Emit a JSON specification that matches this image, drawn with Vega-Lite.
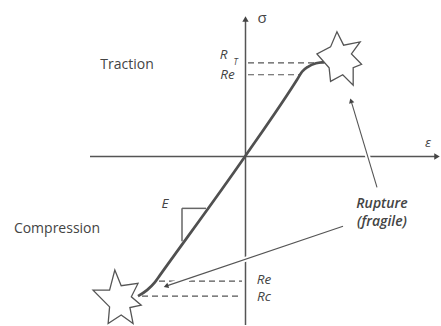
{
  "$schema": "https://vega.github.io/schema/vega-lite/v6.json",
  "width": 441,
  "height": 326,
  "padding": 0,
  "autosize": {"type": "fit", "contains": "padding"},
  "background": "white",
  "config": {"view": {"stroke": null}, "font": "Open Sans"},
  "datasets": {
    "curve": [
      {"i": 1, "e": -10.7, "s": -14.0},
      {"i": 2, "e": -9.8, "s": -13.4},
      {"i": 3, "e": -9.0, "s": -12.6},
      {"i": 4, "e": -8.5, "s": -11.9},
      {"i": 5, "e": 0, "s": 0},
      {"i": 6, "e": 5.2, "s": 7.7},
      {"i": 7, "e": 5.7, "s": 8.5},
      {"i": 8, "e": 6.3, "s": 9.0},
      {"i": 9, "e": 7.1, "s": 9.35},
      {"i": 10, "e": 8.1, "s": 9.5}
    ],
    "segs": [
      {"k": "axis", "e": -15.5, "s": 0, "e2": 19.2, "s2": 0},
      {"k": "axis", "e": 0.05, "s": 13.6, "e2": 0.05, "s2": -16.9},
      {"k": "dash", "e": 0.3, "s": 9.4, "e2": 8.0, "s2": 9.4},
      {"k": "dash", "e": 0.3, "s": 8.2, "e2": 5.5, "s2": 8.2},
      {"k": "dash", "e": -8.6, "s": -12.5, "e2": -0.3, "s2": -12.5},
      {"k": "dash", "e": -10.3, "s": -14.0, "e2": -0.3, "s2": -14.0},
      {"k": "arrow", "e": 13.2, "s": -3.1, "e2": 10.6, "s2": 5.6},
      {"k": "arrow", "e": 9.8, "s": -7.0, "e2": -7.9, "s2": -13.0},
      {"k": "tri", "e": -6.3, "s": -5.2, "e2": -6.3, "s2": -8.5},
      {"k": "tri", "e": -6.3, "s": -5.2, "e2": -3.9, "s2": -5.2}
    ],
    "stars": [
      {"k": "top", "e": 9.6, "s": 9.6},
      {"k": "bottom", "e": -12.7, "s": -14.3}
    ],
    "heads": [
      {"k": "right", "e": 19.2, "s": 0},
      {"k": "up", "e": 0.05, "s": 13.8},
      {"k": "a1", "e": 10.6, "s": 5.6},
      {"k": "a2", "e": -7.9, "s": -13.0}
    ],
    "labels": [
      {"k": "plain", "t": "Traction", "e": -11.8, "s": 9.2},
      {"k": "plain", "t": "Compression", "e": -18.8, "s": -7.3},
      {"k": "sym", "t": "σ", "e": 1.7, "s": 13.9},
      {"k": "ital", "t": "ε", "e": 18.3, "s": 1.4},
      {"k": "ital", "t": "R", "e": -2.15, "s": 10.2},
      {"k": "sub", "t": "T", "e": -0.95, "s": 9.45},
      {"k": "ital", "t": "Re", "e": -1.75, "s": 8.2},
      {"k": "ital", "t": "Re", "e": 1.9, "s": -12.4},
      {"k": "ital", "t": "Rc", "e": 1.9, "s": -14.1},
      {"k": "ital", "t": "E", "e": -8.0, "s": -4.8},
      {"k": "bold", "t": "Rupture", "e": 13.7, "s": -4.8},
      {"k": "bold", "t": "(fragile)", "e": 13.7, "s": -6.6}
    ]
  },
  "encoding": {
    "x": {"field": "e", "type": "quantitative", "scale": {"domain": [-24.5, 19.6], "nice": false, "zero": false}, "axis": null},
    "y": {"field": "s", "type": "quantitative", "scale": {"domain": [-16.9, 15.7], "nice": false, "zero": false}, "axis": null}
  },
  "layer": [
    {
      "data": {"name": "segs"},
      "transform": [{"filter": "datum.k === 'axis'"}],
      "mark": {"type": "rule", "color": "#555555", "strokeWidth": 1.5},
      "encoding": {"x2": {"field": "e2"}, "y2": {"field": "s2"}}
    },
    {
      "data": {"name": "segs"},
      "transform": [{"filter": "datum.k === 'dash'"}],
      "mark": {"type": "rule", "color": "#555555", "strokeWidth": 1.2, "strokeDash": [6, 4]},
      "encoding": {"x2": {"field": "e2"}, "y2": {"field": "s2"}}
    },
    {
      "data": {"name": "segs"},
      "transform": [{"filter": "datum.k === 'arrow'"}],
      "mark": {"type": "rule", "color": "white", "strokeWidth": 5},
      "encoding": {"x2": {"field": "e2"}, "y2": {"field": "s2"}}
    },
    {
      "data": {"name": "segs"},
      "transform": [{"filter": "datum.k === 'arrow'"}],
      "mark": {"type": "rule", "color": "#555555", "strokeWidth": 1.1},
      "encoding": {"x2": {"field": "e2"}, "y2": {"field": "s2"}}
    },
    {
      "data": {"name": "segs"},
      "transform": [{"filter": "datum.k === 'tri'"}],
      "mark": {"type": "rule", "color": "#666666", "strokeWidth": 1.5},
      "encoding": {"x2": {"field": "e2"}, "y2": {"field": "s2"}}
    },
    {
      "data": {"name": "curve"},
      "mark": {"type": "line", "color": "#505050", "strokeWidth": 2.7, "interpolate": "monotone"},
      "encoding": {"order": {"field": "i", "type": "quantitative"}}
    },
    {
      "data": {"name": "stars"},
      "transform": [{"filter": "datum.k === 'top'"}],
      "mark": {"type": "point", "shape": "M-0.14,-1L0.09,-0.54L0.66,-0.65L0.36,-0.24L0.71,0.12L0.42,0.24L0.42,0.84L0.06,0.48L-0.36,0.71L-0.41,0.24L-0.83,-0.24L-0.36,-0.48Z", "size": 3364, "filled": true, "fill": "white", "stroke": "#555555", "strokeWidth": 1.3, "opacity": 1, "fillOpacity": 1}
    },
    {
      "data": {"name": "stars"},
      "transform": [{"filter": "datum.k === 'bottom'"}],
      "mark": {"type": "point", "shape": "M-0.11,-1L0.11,-0.46L0.69,-0.54L0.46,-0.08L0.8,0.21L0.41,0.29L0.52,0.84L0.11,0.55L-0.34,0.84L-0.29,0.27L-0.86,-0.31L-0.29,-0.31Z", "size": 3364, "filled": true, "fill": "white", "stroke": "#555555", "strokeWidth": 1.3, "opacity": 1, "fillOpacity": 1}
    },
    {
      "data": {"name": "heads"},
      "transform": [{"filter": "datum.k === 'right'"}],
      "mark": {"type": "point", "shape": "triangle-right", "size": 40, "filled": true, "color": "#444444", "opacity": 1}
    },
    {
      "data": {"name": "heads"},
      "transform": [{"filter": "datum.k === 'up'"}],
      "mark": {"type": "point", "shape": "triangle-up", "size": 40, "filled": true, "color": "#444444", "opacity": 1}
    },
    {
      "data": {"name": "heads"},
      "transform": [{"filter": "datum.k === 'a1'"}],
      "mark": {"type": "point", "shape": "triangle-up", "size": 30, "angle": 343.5, "filled": true, "color": "#444444", "opacity": 1}
    },
    {
      "data": {"name": "heads"},
      "transform": [{"filter": "datum.k === 'a2'"}],
      "mark": {"type": "point", "shape": "triangle-up", "size": 30, "angle": 251.4, "filled": true, "color": "#444444", "opacity": 1}
    },
    {
      "data": {"name": "labels"},
      "transform": [{"filter": "datum.k === 'plain'"}],
      "mark": {"type": "text", "fontSize": 14, "color": "#444444", "align": "center", "baseline": "middle"},
      "encoding": {"text": {"field": "t"}}
    },
    {
      "data": {"name": "labels"},
      "transform": [{"filter": "datum.k === 'sym'"}],
      "mark": {"type": "text", "fontSize": 15, "color": "#444444", "align": "center", "baseline": "middle"},
      "encoding": {"text": {"field": "t"}}
    },
    {
      "data": {"name": "labels"},
      "transform": [{"filter": "datum.k === 'ital'"}],
      "mark": {"type": "text", "fontSize": 13.5, "fontStyle": "italic", "color": "#444444", "align": "center", "baseline": "middle"},
      "encoding": {"text": {"field": "t"}}
    },
    {
      "data": {"name": "labels"},
      "transform": [{"filter": "datum.k === 'sub'"}],
      "mark": {"type": "text", "fontSize": 8.5, "fontStyle": "italic", "color": "#444444", "align": "center", "baseline": "middle"},
      "encoding": {"text": {"field": "t"}}
    },
    {
      "data": {"name": "labels"},
      "transform": [{"filter": "datum.k === 'bold'"}],
      "mark": {"type": "text", "fontSize": 14, "fontStyle": "italic", "fontWeight": 600, "color": "#444444", "align": "center", "baseline": "middle"},
      "encoding": {"text": {"field": "t"}}
    }
  ]
}
